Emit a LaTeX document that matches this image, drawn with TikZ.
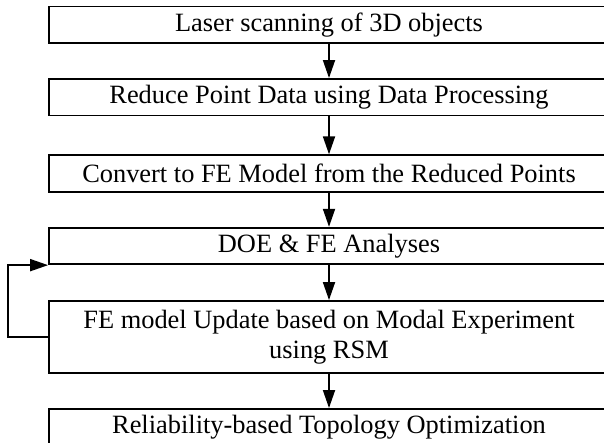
\documentclass[tikz,border=0pt]{standalone}
\usepackage{fontspec}
\setmainfont{Liberation Serif}
\usetikzlibrary{arrows.meta,calc}

\tikzset{
  stepbox/.style={draw, line width=1.8pt, minimum width=560pt, minimum height=36.5pt,
    inner sep=0pt, align=center, font=\fontsize{26.4}{30}\selectfont},
  flow/.style={-{Triangle[length=18pt,width=12pt]}, line width=1.8pt}
}

\begin{document}
\begin{tikzpicture}[x=1pt,y=-1pt]
  \useasboundingbox (0,0) rectangle (604,443);
  \clip (0,0) rectangle (604,443);

  % process steps
  \node[stepbox] (b1) at (329,24.8)  {Laser scanning of 3D objects};
  \node[stepbox] (b2) at (329,97.2)  {Reduce Point Data using Data Processing};
  \node[stepbox] (b3) at (329,173.5) {Convert to FE Model from the Reduced Points};
  \node[stepbox] (b4) at (329,246)   {DOE \& FE Analyses};
  \node[stepbox, minimum height=72pt] (b5) at (329,337)
    {FE model Update based on Modal Experiment\\using RSM};
  \node[stepbox] (b6) at (329,427.2) {Reliability-based Topology Optimization};

  % downward flow
  \draw[flow] (b1) -- (b2);
  \draw[flow] (b2) -- (b3);
  \draw[flow] (b3) -- (b4);
  \draw[flow] (b4) -- (b5);
  \draw[flow] (b5) -- (b6);

  % feedback loop from the update step back to the analyses
  \coordinate (loopx) at (8.3,0);
  \draw[flow] (b5.west) -- (b5.west -| loopx) |- (b4.south west);
\end{tikzpicture}
\end{document}
